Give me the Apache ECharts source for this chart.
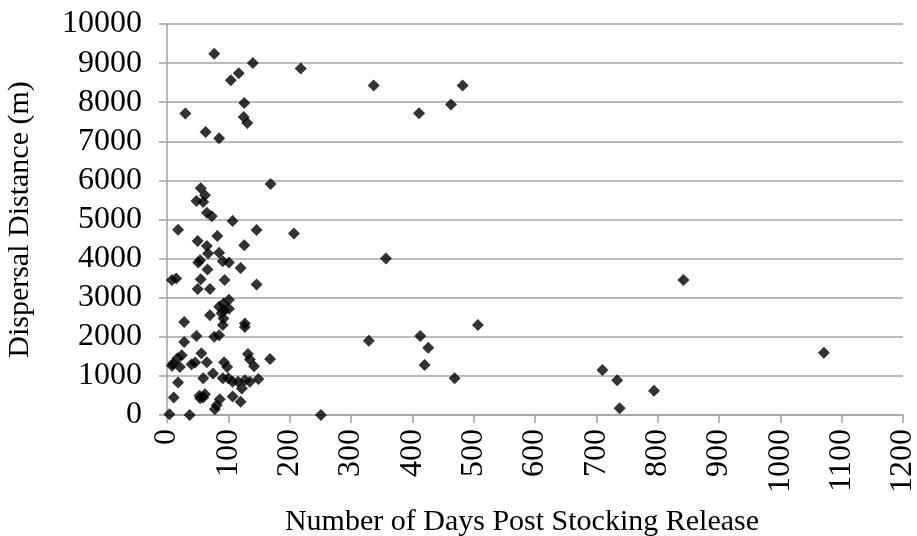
<!DOCTYPE html>
<html>
<head>
<meta charset="utf-8">
<script src="https://cdn.jsdelivr.net/npm/echarts@6/dist/echarts.min.js"></script>
<style>html,body{margin:0;padding:0;background:#fff}#c{width:917px;height:536px}</style>
</head>
<body>
<div id="c"></div>
<script>
var days = [77,140,218,117,104,126,30,125,131,63,85,169,55,62,48,59,65,73,107,337,482,463,411,357,329,507,413,426,420,469,251,710,734,738,794,1071,842,
18,146,207,82,50,126,65,67,85,54,51,91,101,120,66,8,15,55,94,146,50,70,101,92,85,101,93,89,70,28,92,91,127,127,48,77,85,28,56,132,135,168,24,17,10,8,21,40,46,65,93,98,142,75,91,100,59,107,116,127,135,149,18,122,11,53,62,54,59,107,86,81,78,120,4,37];
var distances = [9240,9000,8860,8740,8560,7980,7710,7620,7470,7240,7080,5910,5800,5620,5470,5450,5170,5080,4960,8430,8430,7940,7720,4000,1900,2300,2020,1720,1280,940,0,1150,890,170,620,1590,3450,
4740,4730,4640,4580,4450,4340,4320,4130,4150,3960,3900,3930,3900,3760,3720,3450,3490,3470,3450,3340,3220,3220,2950,2850,2770,2720,2680,2600,2550,2380,2470,2300,2340,2250,2020,2000,2040,1870,1580,1560,1420,1430,1530,1450,1320,1260,1230,1300,1340,1350,1350,1230,1250,1060,940,940,940,850,850,890,850,920,830,680,450,490,530,430,450,470,400,250,150,340,20,0];
var xTicks = {min: 0, max: 1200, interval: 100};
var yTicks = {min: 0, max: 10000, interval: 1000};
var xTitle = 'Number of Days Post Stocking Release';
var yTitle = 'Dispersal Distance (m)';

var pts = days.map(function(d, i){ return [d, distances[i]]; });
var font = 'Liberation Serif';
var plain = function(v){ return String(v); };
var chart = echarts.init(document.getElementById('c'), null, {renderer: 'canvas'});
chart.setOption({
  animation: false,
  backgroundColor: '#ffffff',
  grid: {left: 167, right: 14, top: 24, bottom: 121, containLabel: false, outerBoundsMode: 'none'},
  xAxis: {
    type: 'value', min: xTicks.min, max: xTicks.max, interval: xTicks.interval,
    name: xTitle, nameLocation: 'middle', nameGap: 92,
    nameTextStyle: {fontFamily: font, fontSize: 30, color: '#000', padding: [0, 26, 0, 0]},
    axisLine: {show: true, lineStyle: {color: '#a0a0a0', width: 1.5}},
    axisTick: {show: true, inside: false, length: 8, lineStyle: {color: '#a0a0a0', width: 1.5}},
    axisLabel: {rotate: 90, fontFamily: font, fontSize: 32, color: '#000', margin: 14, formatter: plain},
    splitLine: {show: false}
  },
  yAxis: {
    type: 'value', min: yTicks.min, max: yTicks.max, interval: yTicks.interval,
    name: yTitle, nameLocation: 'middle', nameGap: 132,
    nameTextStyle: {fontFamily: font, fontSize: 30, color: '#000'},
    axisLine: {show: true, lineStyle: {color: '#a0a0a0', width: 1.5}},
    axisTick: {show: true, inside: false, length: 8, lineStyle: {color: '#a0a0a0', width: 1.5}},
    axisLabel: {fontFamily: font, fontSize: 32, color: '#000', margin: 25, formatter: plain},
    splitLine: {show: true, lineStyle: {color: '#a6a6a6', width: 1.5}}
  },
  series: [{
    type: 'scatter', data: pts, symbol: 'diamond', symbolSize: 12,
    itemStyle: {color: '#000'}
  }]
});
</script>
</body>
</html>
